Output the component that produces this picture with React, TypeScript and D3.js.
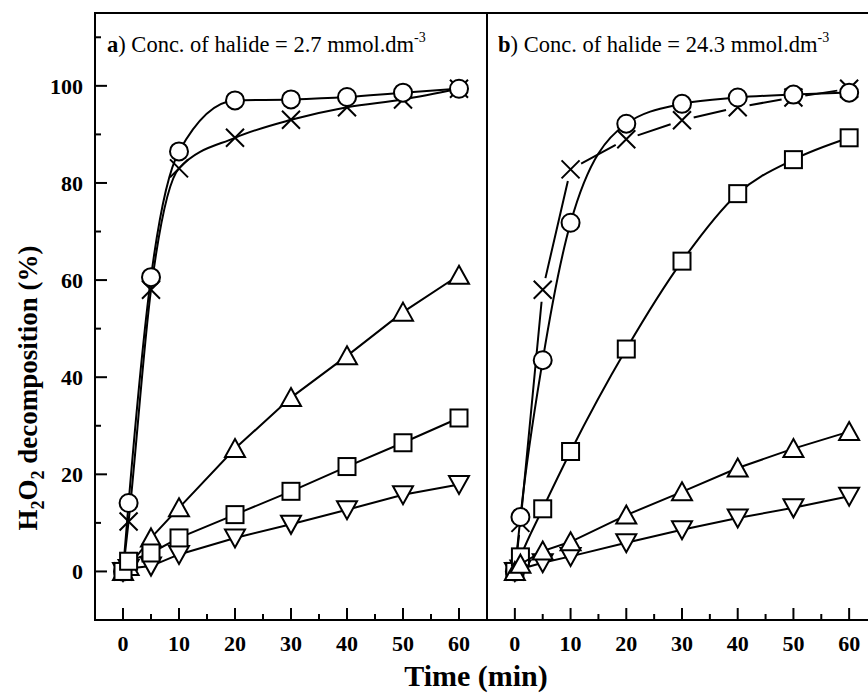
import React from "react";
import * as d3 from "d3";

// Sampling times (min), shared by every series in both panels
const times = [0, 1, 5, 10, 20, 30, 40, 50, 60];

// Panel a: halide concentration 2.7 mmol.dm-3 (H2O2 decomposition, %)
const aCircle = [0, 14.1, 60.6, 86.5, 97.0, 97.2, 97.7, 98.6, 99.4];
const aCross = [0, 10.3, 58.0, 83.0, 89.3, 93.0, 95.6, 97.2, 99.4];
const aUp = [0, 1.0, 6.9, 13.1, 25.3, 35.8, 44.4, 53.4, 61.0];
const aSquare = [0, 2.1, 3.8, 6.9, 11.7, 16.5, 21.6, 26.5, 31.6];
const aDown = [0, 0.6, 1.1, 3.5, 6.9, 9.7, 12.7, 15.8, 17.9];

// Panel b: halide concentration 24.3 mmol.dm-3
const bCircle = [0, 11.2, 43.5, 71.8, 92.2, 96.3, 97.6, 98.2, 98.6];
const bCross = [0, 10.0, 58.0, 82.8, 89.0, 92.9, 95.6, 97.6, 99.4];
const bSquare = [0, 3.0, 12.9, 24.7, 45.8, 63.9, 77.8, 84.8, 89.3];
const bUp = [0, 1.5, 4.2, 6.1, 11.6, 16.4, 21.3, 25.3, 28.8];
const bDown = [0, 0.5, 1.8, 3.1, 5.9, 8.6, 11.0, 13.1, 15.5];

const xMajorTicks = [0, 10, 20, 30, 40, 50, 60];
const xMinorTicks = [5, 15, 25, 35, 45, 55];
const yMajorTicks = [0, 20, 40, 60, 80, 100];
const yMinorTicks = [10, 30, 50, 70, 90, 110];

const FONT = "'Liberation Serif', 'Times New Roman', Times, serif";
const W = 868;
const H = 694;

type Shape = "circle" | "cross" | "up" | "down" | "square";
type Style = "smooth" | "linear" | "gapped";

interface Series {
  values: number[];
  shape: Shape;
  style: Style;
}

// Drawing order: crosses and circles first, then the slower series on top
const panelA: Series[] = [
  { values: aCross, shape: "cross", style: "smooth" },
  { values: aCircle, shape: "circle", style: "smooth" },
  { values: aDown, shape: "down", style: "linear" },
  { values: aUp, shape: "up", style: "linear" },
  { values: aSquare, shape: "square", style: "linear" },
];

const panelB: Series[] = [
  { values: bCross, shape: "cross", style: "gapped" },
  { values: bCircle, shape: "circle", style: "smooth" },
  { values: bDown, shape: "down", style: "linear" },
  { values: bSquare, shape: "square", style: "smooth" },
  { values: bUp, shape: "up", style: "linear" },
];

const y = d3.scaleLinear().domain([-10, 115]).range([620, 13]);
const xA = d3.scaleLinear().domain([-5, 65]).range([95, 487]);
const xB = d3.scaleLinear().domain([-5, 65]).range([487, 877]);

function Marker({ shape, cx, cy }: { shape: Shape; cx: number; cy: number }) {
  const sw = 2;
  switch (shape) {
    case "circle":
      return <circle cx={cx} cy={cy} r={9} fill="#fff" stroke="#000" strokeWidth={sw} />;
    case "square":
      return <rect x={cx - 8.5} y={cy - 8.5} width={17} height={17} fill="#fff" stroke="#000" strokeWidth={sw} />;
    case "up":
      return (
        <path
          d={`M${cx},${cy - 9.5} L${cx + 10},${cy + 8.5} L${cx - 10},${cy + 8.5} Z`}
          fill="#fff"
          stroke="#000"
          strokeWidth={sw}
        />
      );
    case "down":
      return (
        <path
          d={`M${cx - 10},${cy - 8.5} L${cx + 10},${cy - 8.5} L${cx},${cy + 9.5} Z`}
          fill="#fff"
          stroke="#000"
          strokeWidth={sw}
        />
      );
    case "cross":
      return (
        <path
          d={`M${cx - 9},${cy - 9} L${cx + 9},${cy + 9} M${cx - 9},${cy + 9} L${cx + 9},${cy - 9}`}
          stroke="#000"
          strokeWidth={sw}
          fill="none"
        />
      );
  }
}

function SeriesMarks({ s, x }: { s: Series; x: d3.ScaleLinear<number, number> }) {
  const pts: [number, number][] = s.values.map((v, i) => [x(times[i]), y(v)]);
  let lineEl: React.ReactNode = null;
  if (s.style === "gapped") {
    const gap = 12;
    const segs: string[] = [];
    for (let i = 0; i < pts.length - 1; i++) {
      const [x0, y0] = pts[i];
      const [x1, y1] = pts[i + 1];
      const len = Math.hypot(x1 - x0, y1 - y0);
      if (len <= gap * 2 + 2) continue;
      const ux = (x1 - x0) / len;
      const uy = (y1 - y0) / len;
      segs.push(`M${x0 + ux * gap},${y0 + uy * gap}L${x1 - ux * gap},${y1 - uy * gap}`);
    }
    lineEl = <path d={segs.join("")} fill="none" stroke="#000" strokeWidth={2} />;
  } else {
    const gen = d3
      .line<[number, number]>()
      .x((d) => d[0])
      .y((d) => d[1])
      .curve(s.style === "smooth" ? d3.curveMonotoneX : d3.curveLinear);
    lineEl = <path d={gen(pts) || ""} fill="none" stroke="#000" strokeWidth={2} />;
  }
  return (
    <g>
      {lineEl}
      {pts.map(([cx, cy], i) => (
        <Marker key={i} shape={s.shape} cx={cx} cy={cy} />
      ))}
    </g>
  );
}

function XAxis({ x }: { x: d3.ScaleLinear<number, number> }) {
  const y0 = y.range()[0];
  return (
    <g>
      {xMajorTicks.map((t) => (
        <g key={"M" + t}>
          <line x1={x(t)} x2={x(t)} y1={y0} y2={y0 - 12} stroke="#000" strokeWidth={2} />
          <text
            x={x(t)}
            y={651}
            textAnchor="middle"
            fontFamily={FONT}
            fontWeight="bold"
            fontSize={22}
          >
            {t}
          </text>
        </g>
      ))}
      {xMinorTicks.map((t) => (
        <line key={"m" + t} x1={x(t)} x2={x(t)} y1={y0} y2={y0 - 6} stroke="#000" strokeWidth={2} />
      ))}
    </g>
  );
}

export default function App() {
  const left = xA.range()[0];
  const mid = xA.range()[1];
  const right = xB.range()[1];
  const top = y.range()[1];
  const bottom = y.range()[0];
  return (
    <svg
      width={W}
      height={H}
      viewBox={`0 0 ${W} ${H}`}
      style={{ position: "absolute", left: 0, top: 0, background: "#fff" }}
    >
      <rect x={0} y={0} width={W} height={H} fill="#fff" />

      {/* Y axis ticks and labels */}
      {yMajorTicks.map((v) => (
        <g key={"y" + v}>
          <line x1={left} x2={left + 12} y1={y(v)} y2={y(v)} stroke="#000" strokeWidth={2} />
          <text
            x={83}
            y={y(v)}
            dy="0.35em"
            textAnchor="end"
            fontFamily={FONT}
            fontWeight="bold"
            fontSize={22}
          >
            {v}
          </text>
        </g>
      ))}
      {yMinorTicks.map((v) => (
        <line key={"ym" + v} x1={left} x2={left + 6} y1={y(v)} y2={y(v)} stroke="#000" strokeWidth={2} />
      ))}

      <XAxis x={xA} />
      <XAxis x={xB} />

      {/* Data */}
      {panelA.map((s, i) => (
        <SeriesMarks key={"a" + i} s={s} x={xA} />
      ))}
      {panelB.map((s, i) => (
        <SeriesMarks key={"b" + i} s={s} x={xB} />
      ))}

      {/* Frame */}
      <rect
        x={left}
        y={top}
        width={right - left}
        height={bottom - top}
        fill="none"
        stroke="#000"
        strokeWidth={2}
      />
      <line x1={mid} x2={mid} y1={top} y2={bottom} stroke="#000" strokeWidth={2} />

      {/* Panel captions */}
      <text x={107} y={52} fontFamily={FONT} fontSize={22.5}>
        <tspan fontWeight="bold">a</tspan>) Conc. of halide = 2.7 mmol.dm
        <tspan dy={-10} fontSize={14}>-3</tspan>
      </text>
      <text x={498} y={52} fontFamily={FONT} fontSize={22.5}>
        <tspan fontWeight="bold">b</tspan>) Conc. of halide = 24.3 mmol.dm
        <tspan dy={-10} fontSize={14}>-3</tspan>
      </text>

      {/* Axis titles */}
      <text
        x={476}
        y={686}
        textAnchor="middle"
        fontFamily={FONT}
        fontWeight="bold"
        fontSize={30}
      >
        Time (min)
      </text>
      <text
        transform="translate(37,388) rotate(-90)"
        textAnchor="middle"
        fontFamily={FONT}
        fontWeight="bold"
        fontSize={27}
      >
        H<tspan dy={7} fontSize={18}>2</tspan>
        <tspan dy={-7}>O</tspan>
        <tspan dy={7} fontSize={18}>2</tspan>
        <tspan dy={-7}> decomposition (%)</tspan>
      </text>
    </svg>
  );
}
